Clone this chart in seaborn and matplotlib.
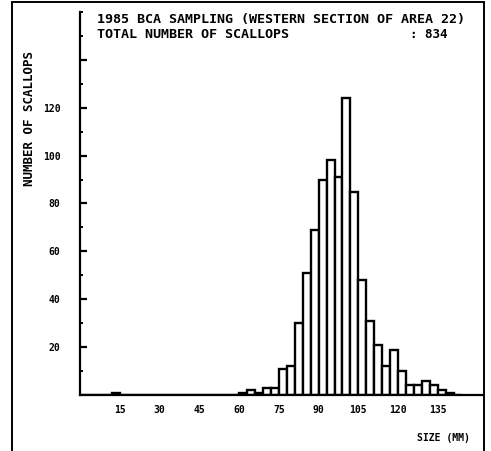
import numpy as np
import pandas as pd
import matplotlib
matplotlib.use("Agg")
import matplotlib.pyplot as plt
import seaborn as sns
from matplotlib.lines import Line2D
from matplotlib.ticker import MultipleLocator, FixedLocator, FuncFormatter

# shell size classes (left edge of 3 mm bins) and counts
bin_left = [12, 60, 63, 66, 69, 72, 75, 78, 81, 84, 87, 90, 93, 96, 99,
            102, 105, 108, 111, 114, 117, 120, 123, 126, 129, 132, 135, 138]
counts = [1, 1, 2, 1, 3, 3, 11, 12, 30, 51, 69, 90, 98, 91, 124,
          85, 48, 31, 21, 12, 19, 10, 4, 4, 6, 4, 2, 1]
x_ticks = [15, 30, 45, 60, 75, 90, 105, 120, 135]
y_ticks = [20, 40, 60, 80, 100, 120, 140]

title1 = "1985 BCA SAMPLING (WESTERN SECTION OF AREA 22)"
title2 = "TOTAL NUMBER OF SCALLOPS"
total_txt = ": 834"

df = pd.DataFrame({"size": [b + 1.5 for b in bin_left], "n": counts})

sns.set_style("white")
plt.rcParams["font.family"] = ["DejaVu Sans Mono"]
plt.rcParams["font.weight"] = "bold"
for k in ["text.color", "xtick.color", "ytick.color", "axes.labelcolor"]:
    plt.rcParams[k] = "black"

W, H = 491, 451
fig = plt.figure(figsize=(W / 100, H / 100), dpi=100)
ax = fig.add_axes([80 / W, (H - 395) / H, (483 - 80) / W, (395 - 12) / H])

sns.histplot(data=df, x="size", weights="n", binwidth=3, binrange=(0, 144), ax=ax,
             color="white", edgecolor="black", linewidth=1.7, alpha=1)

ax.set_xlim(0, 152)
ax.set_ylim(0, 160)
for s in ["top", "right"]:
    ax.spines[s].set_visible(False)
for s in ["left", "bottom"]:
    ax.spines[s].set_linewidth(1.6)
    ax.spines[s].set_color("black")

ax.xaxis.set_major_locator(FixedLocator(x_ticks))
ax.yaxis.set_major_locator(FixedLocator(y_ticks))
ax.yaxis.set_minor_locator(MultipleLocator(10))
ax.yaxis.set_major_formatter(FuncFormatter(lambda v, p: "" if v > 120 else "%d" % v))
ax.tick_params(axis="x", length=0, pad=7, labelsize=7)
ax.tick_params(axis="y", which="major", direction="in", length=5, width=1.6,
               pad=14, labelsize=7, left=True)
ax.tick_params(axis="y", which="minor", direction="in", length=2.5, width=1.4,
               left=True)
for t in ax.get_xticklabels() + ax.get_yticklabels():
    t.set_fontweight("bold")
ax.set_xlabel("")
ax.set_ylabel("")

fig.text(97 / W, 1 - 20 / H, title1, fontsize=9.6, fontweight="bold", va="center")
fig.text(97 / W, 1 - 35 / H, title2, fontsize=9.6, fontweight="bold", va="center")
fig.text(410 / W, 1 - 35 / H, total_txt, fontsize=9, fontweight="bold", va="center")
fig.text(30 / W, 1 - 118 / H, "NUMBER OF SCALLOPS", fontsize=9, fontweight="bold",
         rotation=90, ha="center", va="center")
fig.text(470 / W, 1 - 438 / H, "SIZE (MM)", fontsize=7, fontweight="bold",
         ha="right", va="center")

# page frame from the scanned plot
frame = dict(color="black", linewidth=1.4, transform=fig.transFigure)
fig.add_artist(Line2D([12 / W, 12 / W], [0, 1 - 2 / H], **frame))
fig.add_artist(Line2D([12 / W, 484 / W], [1 - 2 / H, 1 - 2 / H], **frame))
fig.add_artist(Line2D([484 / W, 484 / W], [0, 1 - 2 / H], **frame))

fig.savefig("out.png", dpi=100)
